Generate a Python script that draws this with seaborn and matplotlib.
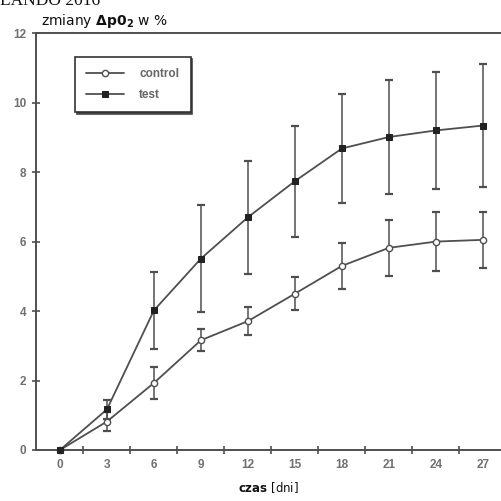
import numpy as np
import pandas as pd
import matplotlib
matplotlib.use("Agg")
import matplotlib.pyplot as plt
import seaborn as sns

# Measurement days and group means with their spread
days = [0, 3, 6, 9, 12, 15, 18, 21, 24, 27]
control_mean = [0, 0.82, 1.93, 3.16, 3.71, 4.50, 5.30, 5.82, 6.00, 6.05]
control_err = [0, 0.28, 0.45, 0.32, 0.40, 0.48, 0.67, 0.80, 0.85, 0.80]
test_mean = [0, 1.17, 4.02, 5.51, 6.70, 7.74, 8.68, 9.01, 9.20, 9.34]
test_err = [0, 0.28, 1.10, 1.55, 1.63, 1.60, 1.57, 1.63, 1.69, 1.77]
groups = ["control", "test"]
x_tick_labels = [str(d) for d in days]
y_ticks = [0, 2, 4, 6, 8, 10, 12]

sns.set_theme(style="ticks")
plt.rcParams["font.family"] = ["DejaVu Sans"]

INK = "#4f4f4f"

df = pd.DataFrame({
    "dzien": days * 2,
    "wartosc": control_mean + test_mean,
    "grupa": [groups[0]] * len(days) + [groups[1]] * len(days),
})

fig = plt.figure(figsize=(5.02, 5.01), dpi=100)
ax = fig.add_axes([0.0717, 0.1018, 0.937, 0.832])

# error bars first so the lines and markers sit on top
ax.errorbar(days[1:], control_mean[1:], yerr=control_err[1:], fmt="none",
            ecolor=INK, elinewidth=1.1, capsize=3, capthick=1.6, zorder=2)
ax.errorbar(days[1:], test_mean[1:], yerr=test_err[1:], fmt="none",
            ecolor=INK, elinewidth=1.1, capsize=3, capthick=1.6, zorder=2)

sns.lineplot(data=df, x="dzien", y="wartosc", hue="grupa", style="grupa",
             palette={groups[0]: INK, groups[1]: INK},
             markers={groups[0]: "o", groups[1]: "s"}, dashes=False,
             markersize=4.5, linewidth=1.3, legend=False, ax=ax, zorder=3)

line_control, line_test = ax.lines[-2], ax.lines[-1]
line_control.set_markerfacecolor("white")
line_control.set_markeredgecolor(INK)
line_control.set_markeredgewidth(1.0)
line_test.set_markerfacecolor("#222222")
line_test.set_markeredgecolor("#222222")
line_test.set_markersize(4)
for ln in (line_control, line_test):
    ln.set_clip_on(False)

ax.set_xlim(-1.53, 28.5)
ax.set_ylim(0, 12)

# tick marks sit between the day labels
ax.set_xticks(np.arange(1.5, 28, 3))
ax.set_xticklabels([])
ax.set_xticks(days, minor=True)
ax.set_xticklabels(x_tick_labels, minor=True)
ax.tick_params(axis="x", which="major", direction="inout", length=6,
               width=1.2, color=INK, bottom=True)
ax.tick_params(axis="x", which="minor", length=0, pad=6.5,
               labelsize=8.5, labelcolor="#707070")
ax.set_yticks(y_ticks)
ax.tick_params(axis="y", direction="inout", length=6, width=1.2, color=INK,
               pad=4, labelsize=8.5, labelcolor="#707070", left=True)
for lab in ax.get_xticklabels(minor=True) + ax.get_yticklabels():
    lab.set_family("Liberation Sans")
    lab.set_fontweight("bold")

for side in ("left", "top", "bottom"):
    ax.spines[side].set_visible(True)
    ax.spines[side].set_color(INK)
    ax.spines[side].set_linewidth(1.4)
ax.spines["right"].set_visible(False)

ax.set_xlabel("")
ax.set_ylabel("")

leg = ax.legend([line_control, line_test], groups, loc="upper left",
                bbox_to_anchor=(0.083, 0.943), borderaxespad=0,
                frameon=True, fancybox=False,
                shadow={"color": "#444444", "alpha": 1.0, "ox": 1.2, "oy": -1.2},
                prop={"family": "Liberation Sans", "size": 8.5, "weight": "bold"},
                handlelength=3.2, handletextpad=1.3, borderpad=0.95,
                labelspacing=0.75)
leg.get_frame().set_edgecolor("#333333")
leg.get_frame().set_linewidth(1.2)
for t in leg.get_texts():
    t.set_color("#666666")

fig.text(0.0, 0.990, "LANDO 2016", family="Liberation Serif", fontsize=12.5,
         color="#111111", ha="left", va="baseline")
fig.text(0.081, 0.951, r"zmiany $\mathbf{\Delta p0}_{\mathbf{2}}$ w %",
         fontsize=10, color="#111111", ha="left", va="baseline")
fig.text(0.534, 0.018, r"$\mathbf{czas}$ [dni]", fontsize=8.5,
         color="#111111", ha="center", va="baseline")

fig.savefig("out.png", dpi=100)
